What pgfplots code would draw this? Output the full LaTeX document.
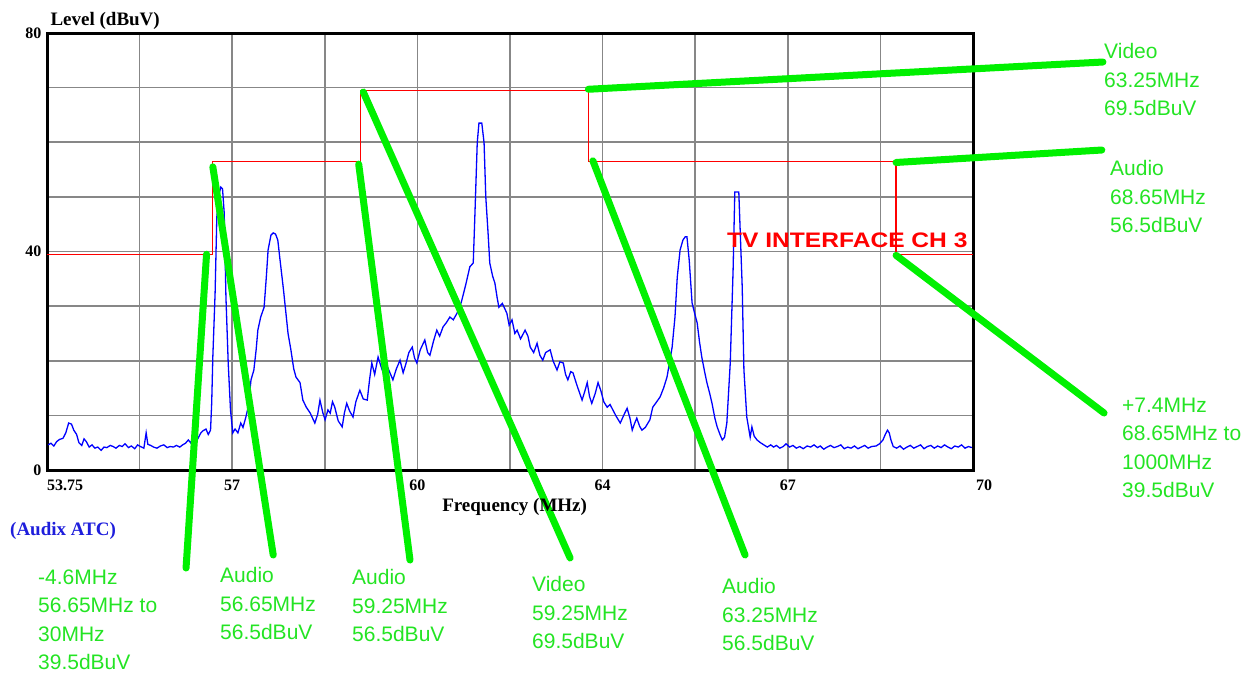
\documentclass[border=0pt]{standalone}
\usepackage{fontspec}
\setmainfont{Liberation Serif}
\newfontfamily\arial{Liberation Sans}
\usepackage{graphicx}
\usepackage{pgfplots}
\pgfplotsset{compat=1.18}
\definecolor{lime}{RGB}{0,240,0}
\definecolor{limetext}{RGB}{35,228,35}
\definecolor{specblue}{RGB}{0,0,255}
\definecolor{limred}{RGB}{255,0,0}
\definecolor{gridgray}{RGB}{135,135,135}
\definecolor{atcblue}{RGB}{30,30,220}
\begin{document}
\begin{tikzpicture}
\useasboundingbox (0pt,0pt) rectangle (1253pt,-673pt);
\begin{axis}[
  at={(47pt,-470pt)}, anchor=south west,
  width=926pt, height=437pt, scale only axis,
  xmin=53.75, xmax=70, ymin=0, ymax=80,
  xtick={53.75,55.375,57,58.625,60.25,61.875,63.5,65.125,66.75,68.375,70},
  xticklabels={\makebox[0pt][l]{53.75},,57,,60,,64,,67,,\makebox[0pt][l]{\hspace{3pt}70}},
  ytick={0,10,20,30,40,50,60,70,80},
  yticklabels={0,,,,40,,,,80},
  grid=major,
  major grid style={gridgray, line width=1.6pt},
  axis line style={black, line width=3pt},
  major tick length=0pt,
  tick label style={font=\bfseries\fontsize{16}{16}\selectfont},
  xticklabel style={yshift=-6pt},
  yticklabel style={xshift=-2pt},
  /pgf/number format/assume math mode=true,
  xlabel={Frequency (MHz)},
  ylabel={Level (dBuV)},
  every axis x label/.style={at={(axis description cs:0.505,0)}, anchor=center, yshift=-37pt, font=\bfseries\fontsize{19}{19}\selectfont},
  every axis y label/.style={at={(axis description cs:0,1)}, anchor=base west, yshift=8pt, font=\bfseries\fontsize{19}{19}\selectfont},
  clip=false,
]
% measured spectrum
\addplot[specblue, line width=1.3pt, sharp plot] coordinates {
(53.77,4.6) (53.82,4.9) (53.87,4.4) (53.92,5.2) (53.97,5.6) (54.03,5.8) (54.08,6.8) (54.13,8.6) (54.18,8.4) (54.22,7.3)
(54.27,6.5) (54.31,5.0) (54.36,4.5) (54.40,5.7) (54.44,5.2) (54.49,4.2) (54.54,4.6) (54.59,4.0) (54.64,4.2) (54.70,3.6)
(54.75,4.2) (54.80,4.1) (54.86,4.5) (54.91,4.3) (54.96,4.0) (55.02,4.5) (55.07,4.3) (55.12,4.8) (55.18,4.1) (55.23,4.4)
(55.29,3.9) (55.34,4.6) (55.39,4.3) (55.45,4.0) (55.49,6.8) (55.52,4.7) (55.57,4.5) (55.62,4.2) (55.68,4.0) (55.74,4.4)
(55.80,4.6) (55.86,4.1) (55.91,4.3) (55.97,4.2) (56.02,4.5) (56.08,4.2) (56.13,4.6) (56.18,4.9) (56.23,5.5) (56.27,5.0)
(56.31,5.8) (56.36,6.5) (56.40,5.8) (56.45,6.8) (56.49,7.2) (56.54,7.5) (56.58,6.5) (56.62,7.3)
(56.64,12.2) (56.66,20.7) (56.70,32.4) (56.73,46.3) (56.77,50.5) (56.80,51.8) (56.83,51.5) (56.86,47.0) (56.89,31.7) (56.93,19.6)
(56.97,11.0) (57.01,6.8) (57.05,7.5) (57.10,6.8) (57.15,8.6) (57.19,7.8) (57.24,9.7) (57.28,11.5) (57.33,16.5) (57.38,18.3)
(57.42,22.0) (57.45,25.6) (57.50,28.0) (57.56,29.8) (57.60,35.5) (57.63,40.3) (57.68,43.0) (57.72,43.4) (57.76,43.2) (57.80,42.1)
(57.84,38.4) (57.90,33.0) (57.95,28.0) (57.98,25.0) (58.03,22.0) (58.08,18.5) (58.12,17.0) (58.19,16.0) (58.24,12.8) (58.30,11.5)
(58.37,10.4) (58.41,9.5) (58.45,8.6) (58.50,10.2) (58.54,12.8) (58.59,10.5) (58.63,9.2) (58.68,11.0) (58.72,10.4) (58.76,12.5)
(58.80,11.5) (58.86,9.0) (58.93,7.9) (58.97,10.5) (59.01,12.2) (59.06,10.8) (59.12,9.7) (59.17,12.5) (59.24,14.6) (59.30,13.0)
(59.37,12.8) (59.41,16.5) (59.45,19.6) (59.50,17.5) (59.56,20.7) (59.61,19.0) (59.65,17.8) (59.70,19.5) (59.76,18.0) (59.82,16.5)
(59.88,18.5) (59.945,20.1) (60.00,17.8) (60.05,19.5) (60.10,21.5) (60.16,22.5) (60.20,20.5) (60.24,19.6) (60.30,22.0) (60.38,23.8)
(60.43,21.5) (60.47,21.0) (60.53,23.5) (60.59,25.6) (60.64,24.5) (60.70,26.2) (60.76,27.0) (60.82,28.0) (60.88,27.5) (60.945,28.7)
(61.00,30.0) (61.03,31.1) (61.10,34.0) (61.17,37.2) (61.23,37.9) (61.26,47.0) (61.30,59.9) (61.33,63.5) (61.38,63.5) (61.42,59.9)
(61.45,50.0) (61.49,43.4) (61.52,37.9) (61.57,35.5) (61.61,34.2) (61.65,31.5) (61.68,29.8) (61.74,30.5) (61.82,28.7) (61.86,26.5)
(61.91,27.5) (61.96,25.0) (62.00,25.6) (62.06,24.0) (62.14,25.6) (62.19,24.5) (62.23,22.5) (62.29,21.5) (62.35,23.2) (62.40,21.0)
(62.45,20.1) (62.50,21.5) (62.58,22.0) (62.63,20.0) (62.70,18.3) (62.75,19.8) (62.81,19.6) (62.85,17.5) (62.89,16.5) (62.94,18.0)
(62.98,17.8) (63.05,15.5) (63.10,14.0) (63.14,12.8) (63.19,14.5) (63.23,16.0) (63.27,13.5) (63.31,12.2) (63.37,14.0) (63.42,16.0)
(63.47,14.5) (63.52,12.5) (63.58,11.5) (63.63,12.0) (63.68,11.0) (63.74,9.8) (63.81,8.6) (63.87,10.0) (63.93,11.3) (63.98,9.5)
(64.02,7.3) (64.06,8.5) (64.10,9.5) (64.15,8.0) (64.19,7.3) (64.25,7.8) (64.33,9.2) (64.38,11.5) (64.45,12.5) (64.51,13.4)
(64.57,15.0) (64.63,17.0) (64.68,20.0) (64.72,22.5) (64.77,28.0) (64.81,35.3) (64.86,40.3) (64.91,42.1) (64.95,42.7) (64.98,42.7)
(65.02,38.4) (65.07,30.6) (65.12,28.5) (65.16,26.9) (65.20,23.5) (65.24,20.7) (65.29,18.0) (65.33,16.0) (65.38,14.0) (65.42,12.2)
(65.47,9.5) (65.51,7.9) (65.56,6.5) (65.60,5.5) (65.64,6.0) (65.68,8.6) (65.74,19.6) (65.79,36.6) (65.82,50.9) (65.89,50.9)
(65.95,33.5) (65.98,18.3) (66.03,9.7) (66.09,6.0) (66.12,7.9) (66.16,6.2) (66.21,5.5) (66.27,5.0) (66.33,4.6) (66.39,4.2)
(66.45,4.6) (66.50,4.2) (66.55,4.5) (66.61,4.0) (66.67,4.3) (66.72,4.8) (66.78,4.2) (66.84,4.5) (66.90,4.0) (66.96,4.3)
(67.02,3.9) (67.09,4.4) (67.15,4.2) (67.21,4.6) (67.27,4.1) (67.32,4.4) (67.38,3.8) (67.44,4.2) (67.50,4.5) (67.56,4.1)
(67.62,4.3) (67.68,4.6) (67.74,3.9) (67.80,4.2) (67.86,4.0) (67.92,4.4) (67.98,3.9) (68.04,4.2) (68.10,4.5) (68.16,4.0)
(68.22,4.3) (68.30,4.4) (68.36,4.8) (68.42,5.5) (68.46,6.5) (68.50,7.3) (68.53,6.8) (68.56,5.5) (68.60,4.3) (68.66,4.0)
(68.72,4.4) (68.78,3.8) (68.84,4.2) (68.90,4.5) (68.96,4.0) (69.02,4.3) (69.08,4.6) (69.14,3.9) (69.20,4.3) (69.26,4.5)
(69.32,4.0) (69.38,4.4) (69.44,4.1) (69.50,4.6) (69.56,4.2) (69.62,3.9) (69.68,4.4) (69.74,4.2) (69.80,4.6) (69.86,4.0)
(69.92,4.3) (69.98,4.1)
};
% interference limit
\addplot[limred, line width=1.4pt, const plot mark left] coordinates {
(53.75,39.5) (56.65,56.5) (59.25,69.5) (63.25,56.5) (68.65,39.5) (70,39.5)
};
% annotation leaders
\begin{scope}[lime, line width=7pt, line cap=round]
\draw (axis cs:63.25,69.7) -- (axis cs:72.28,74.69);
\draw (axis cs:68.65,56.3) -- (axis cs:72.26,58.58);
\draw (axis cs:68.65,39.3) -- (axis cs:72.30,10.43);
\draw (axis cs:56.55,39.5) -- (axis cs:56.19,-17.94);
\draw (axis cs:56.66,55.5) -- (axis cs:57.72,-15.56);
\draw (axis cs:59.22,56.0) -- (axis cs:60.12,-16.48);
\draw (axis cs:59.30,69.2) -- (axis cs:62.93,-16.11);
\draw (axis cs:63.33,56.6) -- (axis cs:66.00,-15.56);
\end{scope}
\end{axis}
% red caption
\node[anchor=base west, inner sep=0pt, text=limred, font=\arial\bfseries\fontsize{21}{21}\selectfont] at (727pt,-247pt) {\scalebox{1.17}[1]{TV INTERFACE CH 3}};
% instrument caption
\node[anchor=west, inner sep=0pt, text=atcblue, font=\bfseries\fontsize{19}{19}\selectfont] at (10pt,-531pt) {(Audix ATC)};
% green annotations (anchor = baseline of the last line)
\begin{scope}[every node/.style={anchor=base west, inner sep=0pt, align=left, text=limetext, font=\arial\fontsize{21}{28.5}\selectfont}]
\node at (1104pt,-115.5pt) {Video\\63.25MHz\\69.5dBuV};
\node at (1110pt,-232.5pt) {Audio\\68.65MHz\\56.5dBuV};
\node at (1122pt,-497.5pt) {+7.4MHz\\68.65MHz to\\1000MHz\\39.5dBuV};
\node at (38pt,-669.5pt) {-4.6MHz\\56.65MHz to\\30MHz\\39.5dBuV};
\node at (220pt,-639.5pt) {Audio\\56.65MHz\\56.5dBuV};
\node at (352pt,-641.5pt) {Audio\\59.25MHz\\56.5dBuV};
\node at (532pt,-648.5pt) {Video\\59.25MHz\\69.5dBuV};
\node at (722pt,-650.5pt) {Audio\\63.25MHz\\56.5dBuV};
\end{scope}
\end{tikzpicture}
\end{document}
